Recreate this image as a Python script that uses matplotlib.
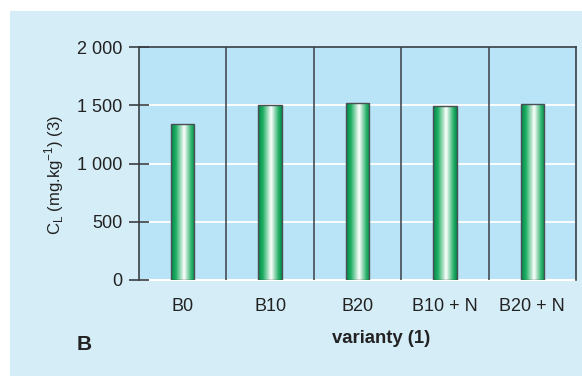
import numpy as np
import matplotlib.pyplot as plt
from matplotlib.colors import LinearSegmentedColormap
from matplotlib.patches import Rectangle
from matplotlib.ticker import FuncFormatter

plt.rcParams['font.family'] = ['Liberation Sans', 'DejaVu Sans']

# data
categories = ["B0", "B10", "B20", "B10 + N", "B20 + N"]
values = [1340, 1500, 1520, 1490, 1515]
yticks = [0, 500, 1000, 1500, 2000]

fig = plt.figure(figsize=(5.82, 3.76), dpi=100)
fig.patch.set_facecolor("white")
fig.patches.append(Rectangle((10 / 582, 0), 1, 1 - 11 / 376, transform=fig.transFigure,
                             facecolor="#d5edf7", edgecolor="none", zorder=-5))

ax = fig.add_axes([139 / 582, 1 - 280 / 376, 437 / 582, 233 / 376])
ax.set_zorder(2)
ax.set_facecolor("#b9e3f7")

n = len(categories)
x = np.arange(n)
w = 0.27

# gridlines
for t in yticks[1:-1]:
    ax.axhline(t, color="white", lw=1.3, zorder=1)
ax.axhline(0, color="white", lw=1.5, zorder=1, clip_on=False)
for b in np.arange(0.5, n - 1, 1):
    ax.axvline(b, color="#3a3f45", lw=1.1, zorder=1)

# gradient bars
cmap = LinearSegmentedColormap.from_list(
    "cyl", [(0, "#00874a"), (0.2, "#1fae62"), (0.55, "#ffffff"), (0.85, "#2fb56e"), (1, "#008c4a")])
grad = np.linspace(0, 1, 64).reshape(1, -1)
bars = ax.bar(x, values, width=w, facecolor="none", edgecolor="#4a4f55", lw=1.0, zorder=3)
for rect in bars:
    x0, y0 = rect.get_x(), rect.get_y()
    im = ax.imshow(grad, cmap=cmap, aspect="auto", zorder=2,
                   extent=[x0, x0 + rect.get_width(), y0, y0 + rect.get_height()])
    im.set_clip_path(rect)
ax.set_xlim(-0.5, n - 0.5)
ax.set_ylim(0, 2000)

for s in ["top", "right", "left"]:
    ax.spines[s].set_color("#3a3f45")
    ax.spines[s].set_linewidth(1.2)
ax.spines["bottom"].set_visible(False)

ax.set_yticks(yticks)
ax.yaxis.set_major_formatter(FuncFormatter(lambda v, p: f"{int(v):,}".replace(",", " ")))
ax.tick_params(axis="y", direction="inout", length=14, width=1.2, color="#3a3f45",
               labelsize=13, labelcolor="#222222", pad=5)
ax.set_xticks(x)
ax.set_xticklabels(categories)
ax.tick_params(axis="x", length=0, labelsize=13, labelcolor="#222222", pad=13)

ax.set_ylabel(r"C$_\mathregular{L}$ (mg.kg$^\mathregular{-1}$) (3)", fontsize=12,
              color="#222222")
ax.yaxis.set_label_coords(-0.168, 0.45)
ax.text(0.554, -0.249, "varianty (1)", transform=ax.transAxes, fontsize=13.3,
        fontweight="bold", color="#222222", ha="center", va="center")
fig.text(84 / 582, 1 - 345 / 376, "B", fontsize=15, fontweight="bold", color="#222222",
         ha="center", va="center")

fig.savefig("out.png", dpi=100, facecolor=fig.get_facecolor())
